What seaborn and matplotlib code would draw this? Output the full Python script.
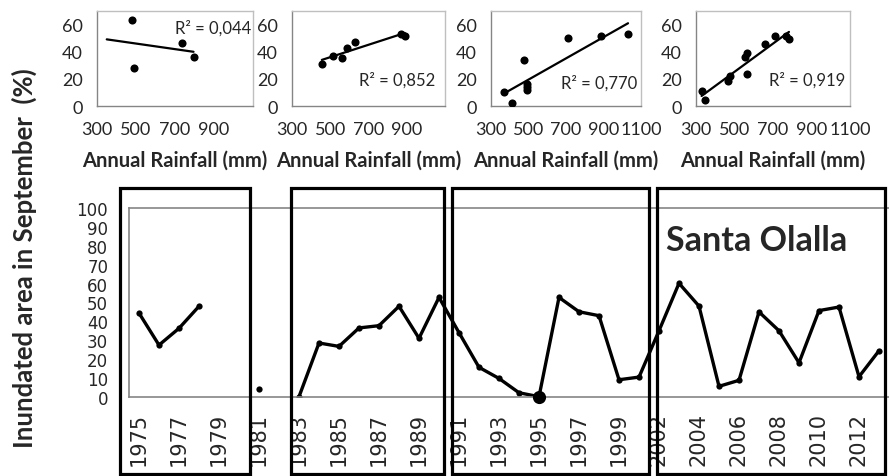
import numpy as np
import pandas as pd
import matplotlib
matplotlib.use("Agg")
import matplotlib.pyplot as plt
import matplotlib.transforms as mtransforms
from matplotlib.patches import Rectangle
import seaborn as sns

# ---------------- data ----------------
years = list(range(1975, 2001)) + list(range(2002, 2014))
inundated = [44.4, 27.4, 36.3, 48.0, np.nan, np.nan, 4.0, np.nan, 0.0, 28.5,
             26.7, 36.5, 37.7, 48.0, 31.0, 52.7, 34.0, 15.6, 9.7, 2.1,
             0.0, 52.7, 45.1, 43.0, 9.0, 10.4, 35.0, 60.2, 48.1, 5.5,
             8.7, 45.0, 35.0, 18.0, 45.7, 47.6, 10.6, 24.4]
highlight_year = 1995
site_name = "Santa Olalla"
y_label = "Inundated area in September  (%)"
y_ticks = list(range(0, 101, 10))

rain1 = [480, 492, 735, 795]
area1 = [63.4, 27.7, 46.5, 36.5]
rain2 = [456, 515, 561, 589, 627, 869, 890]
area2 = [31.3, 36.9, 35.5, 42.7, 47.4, 53.0, 51.7]
rain3 = [371, 414, 477, 491, 493, 495, 711, 885, 1031]
area3 = [10.1, 2.0, 34.2, 16.0, 14.0, 11.6, 50.0, 51.9, 52.9]
rain4 = [329, 345, 465, 478, 557, 563, 567, 657, 712, 769, 783]
area4 = [11.3, 4.7, 18.2, 21.9, 35.9, 38.8, 23.6, 45.7, 51.6, 51.8, 49.6]
r2_labels = ["R² = 0,044", "R² = 0,852", "R² = 0,770", "R² = 0,919"]
rain_ticks_short = [300, 500, 700, 900]
rain_ticks_long = [300, 500, 700, 900, 1100]
area_ticks = [0, 20, 40, 60]
x_label_small = "Annual Rainfall (mm)"
forecast_back = [130, 0, 0, 0]

# ---------------- style ----------------
sns.set_theme(style="white")
plt.rcParams["font.family"] = ["DejaVu Sans"]
GRAY = "#858585"
LIGHT = "#BFBFBF"
LATO = ["Lato", "DejaVu Sans"]

W, H = 889, 477
fig = plt.figure(figsize=(W / 100, H / 100), dpi=100)
fig.patch.set_facecolor("white")


def fx(px):
    return px / W


def fy(py):
    return 1 - py / H


# ---------------- main axes ----------------
ax = fig.add_axes([fx(129), fy(397.7), fx(889 - 129), (397.7 - 209.3) / H])
df = pd.DataFrame({"year": years, "val": inundated})
df["idx"] = np.arange(len(df))
df["seg"] = df["val"].isna().cumsum()
dfp = df.dropna()

sns.lineplot(data=dfp, x="idx", y="val", units="seg", estimator=None,
             color="black", lw=2.4, marker="o", markersize=4.5,
             markeredgewidth=0, ax=ax, legend=False)
hl = dfp[dfp["year"] == highlight_year]
sns.scatterplot(data=hl, x="idx", y="val", color="black", s=90,
                edgecolor="black", linewidth=0, ax=ax, legend=False,
                clip_on=False, zorder=5)

ax.set_xlim(-0.5, len(years) - 0.5)
ax.set_ylim(0, 100)
ax.set_yticks(y_ticks)
ax.set_yticklabels([str(t) for t in y_ticks], fontsize=12)
ax.set_xticks(df["idx"].values[::2])
ax.set_xticklabels([str(y) for y in years[::2]], rotation=90, fontsize=15)
ax.set_xticks(np.arange(-0.5, len(years), 1), minor=True)
ax.tick_params(axis="x", which="major", length=0, pad=11)
ax.tick_params(axis="x", which="minor", length=6, width=1, color=GRAY,
               direction="out")
ax.tick_params(axis="y", length=0, pad=15)
ax.set_xlabel("")
ax.set_ylabel("")
for s in ["left", "bottom", "top"]:
    ax.spines[s].set_color(GRAY)
    ax.spines[s].set_linewidth(1.2)
ax.spines["right"].set_visible(False)
ax.grid(False)

ax.text(0.706, 0.83, site_name, transform=ax.transAxes, ha="left",
        va="center", fontsize=24.5, fontweight="bold", family=LATO)

# period boxes: x in data coords, y in figure coords
trans = mtransforms.blended_transform_factory(ax.transData, fig.transFigure)
boxes = [(-0.95, 5.54), (7.58, 15.26), (15.66, 25.49), (25.89, 37.3)]
for x0, x1 in boxes:
    fig.patches.append(Rectangle((x0, fy(474.5)), x1 - x0, fy(189) - fy(474.5),
                                 transform=trans, fill=False, lw=2.3,
                                 edgecolor="black", zorder=10))

fig.text(fx(24), fy(258), y_label, rotation=90, ha="center", va="center",
         fontsize=18.5, fontweight="bold", family=LATO)

# ---------------- top scatter panels ----------------
panels = [
    (rain1, area1, rain_ticks_short, (97, 253), (0.744, 0.833)),
    (rain2, area2, rain_ticks_short, (292, 445), (0.69, 0.285)),
    (rain3, area3, rain_ticks_long, (490.7, 641), (0.72, 0.253)),
    (rain4, area4, rain_ticks_long, (696, 850), (0.72, 0.285)),
]
for k, (rx, ay, xt, (l, r), (tx, ty)) in enumerate(panels):
    a = fig.add_axes([fx(l), fy(107), fx(r - l), (107 - 12.2) / H])
    pdf = pd.DataFrame({"rain": rx, "area": ay})
    sns.scatterplot(data=pdf, x="rain", y="area", color="black", s=34,
                    edgecolor="black", linewidth=0, ax=a, legend=False,
                    zorder=3)
    slope, icpt = np.polyfit(rx, ay, 1)
    xs = np.array([min(rx) - forecast_back[k], max(rx)])
    a.plot(xs, slope * xs + icpt, color="black", lw=1.6, zorder=2)
    a.set_xlim(300, 1100)
    a.set_ylim(0, 70)
    a.set_xticks(rain_ticks_long)
    a.set_xticklabels([str(t) if t in xt else "" for t in rain_ticks_long],
                      fontsize=13, family=LATO)
    a.set_yticks(area_ticks)
    a.set_yticklabels([str(t) for t in area_ticks], fontsize=13, family=LATO)
    a.tick_params(axis="x", length=5, width=1, color=GRAY, direction="out",
                  pad=6)
    a.tick_params(axis="y", length=4, width=1, color=GRAY, direction="out",
                  pad=6)
    a.set_xlabel(x_label_small, fontsize=14.5, fontweight="bold",
                 family=LATO, labelpad=9)
    a.set_ylabel("")
    for s in ["top", "right"]:
        a.spines[s].set_color(LIGHT)
        a.spines[s].set_linewidth(1)
    for s in ["left", "bottom"]:
        a.spines[s].set_color(GRAY)
        a.spines[s].set_linewidth(1)
    a.grid(False)
    a.text(tx, ty, r2_labels[k], transform=a.transAxes, ha="center",
           va="center", fontsize=12, family=LATO)

fig.savefig("out.png", dpi=100, facecolor="white")
